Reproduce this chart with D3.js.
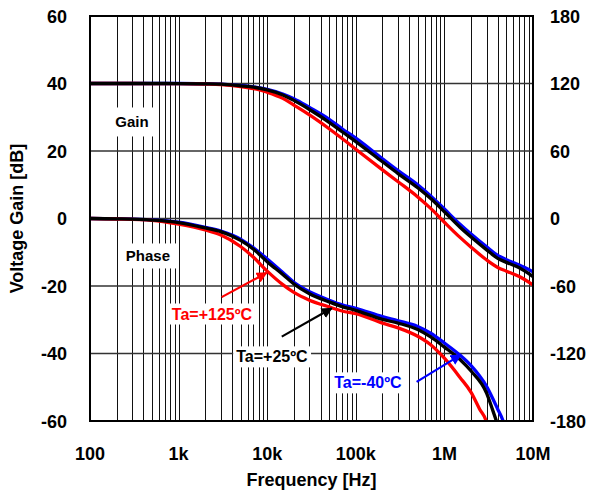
<!DOCTYPE html>
<html>
<head>
<meta charset="utf-8">
<script src="https://cdn.jsdelivr.net/npm/d3@7"></script>
<style>
  html, body { margin: 0; padding: 0; background: #fff; }
  svg { display: block; font-family: "Liberation Sans", Arial, sans-serif; font-weight: bold; }
</style>
</head>
<body>
<svg id="chart" width="593" height="492"></svg>
<script>
// ---------- data ----------
const freqGain = [100,200,500,1e3,2e3,3e3,5e3,7e3,1e4,1.5e4,2e4,3e4,5e4,7e4,1e5,2e5,3e5,5e5,7e5,1e6,1.5e6,2e6,3e6,4e6,5e6,7e6,1e7];
const gainBlue  = [40,40,40,40,39.92,39.83,39.4,39.0,38.3,36.9,35.5,32.9,29.4,26.6,23.8,17.7,14.2,10.0,6.7,2.8,-1.7,-4.6,-8.4,-10.9,-12.2,-13.8,-15.8];
const gainBlack = [40,40,40,39.98,39.9,39.8,39.3,38.9,38.1,36.6,35.0,32.3,28.5,25.7,22.8,16.8,13.3,9.1,5.9,2.0,-2.6,-5.5,-9.3,-11.8,-13.0,-14.6,-17.2];
const gainRed   = [40,40,39.99,39.96,39.85,39.7,39.1,38.5,37.4,35.6,33.6,30.7,26.6,23.7,20.5,14.4,10.9,6.4,3.0,-1.1,-5.6,-8.5,-12.3,-14.5,-15.6,-17.2,-19.7];

const freqPhaseBlue  = [100,200,500,1e3,2e3,3e3,5e3,7e3,1e4,1.5e4,2e4,3e4,5e4,7e4,1e5,2e5,3e5,5e5,7e5,1e6,1.5e6,2e6,3e6,4e6,4.6e6,4.9e6];
const phaseBlue      = [0,-0.3,-1.2,-3.3,-7.8,-11.1,-18.3,-26.1,-36.0,-48.0,-56.7,-65.1,-72.6,-76.8,-79.8,-87.3,-90.9,-96.0,-102.0,-110.7,-121.5,-130.8,-149.4,-169.5,-180,-187];
const freqPhaseBlack = [100,200,500,1e3,2e3,3e3,5e3,7e3,1e4,1.5e4,2e4,3e4,5e4,7e4,1e5,2e5,3e5,5e5,7e5,1e6,1.5e6,2e6,3e6,3.5e6,4.1e6];
const phaseBlack     = [0,-0.3,-1.4,-3.6,-8.4,-11.7,-19.5,-27.3,-38.4,-49.8,-58.2,-66.9,-74.1,-78.3,-81.6,-89.7,-93.0,-98.7,-105.3,-114.3,-125.4,-135.6,-155.4,-170.1,-186];
const freqPhaseRed   = [100,200,500,1e3,2e3,3e3,5e3,7e3,1e4,1.5e4,2e4,3e4,5e4,7e4,1e5,2e5,3e5,5e5,7e5,1e6,1.5e6,2e6,2.5e6,3e6,3.1e6];
const phaseRed       = [0,-0.45,-1.65,-5.1,-10.2,-14.7,-24.9,-34.5,-46.8,-58.8,-65.7,-72.6,-78.6,-82.2,-84.6,-93.0,-97.2,-104.7,-112.2,-124.2,-141.3,-154.5,-169.5,-181.5,-186];

const xTickValues = [100,1e3,1e4,1e5,1e6,1e7];
const xTickLabels = ["100","1k","10k","100k","1M","10M"];
const yLeftTicks  = [60,40,20,0,-20,-40,-60];
const yRightTicks = [180,120,60,0,-60,-120,-180];

const seriesNames  = ["Ta=-40ºC","Ta=+25ºC","Ta=+125ºC"];
const seriesColors = ["#0000ff","#000000","#ff0000"];

// ---------- layout ----------
const W = 593, H = 492;
const m = {left: 90, right: 60, top: 16, bottom: 71};
const svg = d3.select("#chart");

const x = d3.scaleLog().domain([100, 1e7]).range([m.left, W - m.right]);
const yL = d3.scaleLinear().domain([-60, 60]).range([H - m.bottom, m.top]);
const yR = d3.scaleLinear().domain([-180, 180]).range([H - m.bottom, m.top]);

// grid: vertical (log minor + major)
const vTicks = x.ticks();
svg.append("g").selectAll("line").data(vTicks).join("line")
  .attr("x1", d => Math.round(x(d)) + 0.5).attr("x2", d => Math.round(x(d)) + 0.5)
  .attr("y1", m.top).attr("y2", H - m.bottom)
  .attr("stroke", "#111").attr("stroke-width", 1);

// grid: horizontal
svg.append("g").selectAll("line").data(yLeftTicks).join("line")
  .attr("x1", m.left).attr("x2", W - m.right)
  .attr("y1", d => yL(d)).attr("y2", d => yL(d))
  .attr("stroke", "#333").attr("stroke-width", 1.6);

// clip
svg.append("clipPath").attr("id", "plotclip").append("rect")
  .attr("x", m.left).attr("y", m.top)
  .attr("width", W - m.left - m.right).attr("height", H - m.top - m.bottom);

// curves
const plot = svg.append("g").attr("clip-path", "url(#plotclip)");
const lineGain  = d3.line().x(d => x(d[0])).y(d => yL(d[1])).curve(d3.curveMonotoneX);
const linePhase = d3.line().x(d => x(d[0])).y(d => yR(d[1])).curve(d3.curveMonotoneX);

const gainSets  = [gainBlue, gainRed, gainBlack];
const phaseSets = [[freqPhaseBlue, phaseBlue], [freqPhaseRed, phaseRed], [freqPhaseBlack, phaseBlack]];
const colorOrder = [seriesColors[0], seriesColors[2], seriesColors[1]];

gainSets.forEach((g, i) => {
  plot.append("path").datum(freqGain.map((f, j) => [f, g[j]]))
    .attr("d", lineGain).attr("fill", "none")
    .attr("stroke", colorOrder[i]).attr("stroke-width", 3.3);
});
phaseSets.forEach((p, i) => {
  plot.append("path").datum(p[0].map((f, j) => [f, p[1][j]]))
    .attr("d", linePhase).attr("fill", "none")
    .attr("stroke", colorOrder[i]).attr("stroke-width", 3.3);
});

// frame
svg.append("rect").attr("x", m.left).attr("y", m.top)
  .attr("width", W - m.left - m.right).attr("height", H - m.top - m.bottom)
  .attr("fill", "none").attr("stroke", "#000").attr("stroke-width", 2);

// tick labels
const tickFont = 18;
svg.append("g").selectAll("text").data(yLeftTicks).join("text")
  .attr("x", 67).attr("y", d => yL(d) + 6.5)
  .attr("text-anchor", "end").attr("font-size", tickFont).text(d => d);
svg.append("g").selectAll("text").data(yRightTicks).join("text")
  .attr("x", 550).attr("y", d => yR(d) + 6.5)
  .attr("text-anchor", "start").attr("font-size", tickFont).text(d => d);
svg.append("g").selectAll("text").data(xTickValues).join("text")
  .attr("x", d => x(d)).attr("y", 460)
  .attr("text-anchor", "middle").attr("font-size", tickFont)
  .text((d, i) => xTickLabels[i]);

// axis titles
svg.append("text").attr("x", (m.left + W - m.right) / 2).attr("y", 486)
  .attr("text-anchor", "middle").attr("font-size", 18).text("Frequency [Hz]");
svg.append("text").attr("transform", `translate(23, ${(m.top + H - m.bottom) / 2}) rotate(-90)`)
  .attr("text-anchor", "middle").attr("font-size", 18).text("Voltage Gain [dB]");

// annotations
function boxedLabel(fx, dy, text, color, size, padX, padY) {
  const g = svg.append("g");
  const t = g.append("text").attr("x", x(fx)).attr("y", yL(dy))
    .attr("text-anchor", "middle").attr("dominant-baseline", "central")
    .attr("font-size", size).attr("fill", color).text(text);
  const bb = t.node().getBBox();
  g.insert("rect", "text").attr("x", bb.x - padX).attr("y", bb.y - padY)
    .attr("width", bb.width + 2 * padX).attr("height", bb.height + 2 * padY)
    .attr("fill", "#fff");
}
boxedLabel(298, 28.6, "Gain", "#000", 15, 9, 6);
boxedLabel(451, -11.1, "Phase", "#000", 15, 6, 4);

// arrows
const defs = svg.append("defs");
seriesColors.forEach((c, i) => {
  defs.append("marker").attr("id", "ah" + i)
    .attr("viewBox", "0 0 10 10").attr("refX", 9).attr("refY", 5)
    .attr("markerWidth", 5).attr("markerHeight", 5).attr("orient", "auto")
    .attr("markerUnits", "strokeWidth")
    .append("path").attr("d", "M0,0 L10,5 L0,10 z").attr("fill", c);
});
const arrows = [
  {from: [486e3, -48.4], to: [1.53e6, -40.4], ci: 0},
  {from: [14.6e3, -35.0], to: [53.5e3, -26.6], ci: 1},
  {from: [3.06e3, -23.3], to: [9.86e3, -16.1], ci: 2}
];
arrows.forEach(a => {
  svg.append("line")
    .attr("x1", x(a.from[0])).attr("y1", yL(a.from[1]))
    .attr("x2", x(a.to[0])).attr("y2", yL(a.to[1]))
    .attr("stroke", seriesColors[a.ci]).attr("stroke-width", 2.2)
    .attr("marker-end", `url(#ah${a.ci})`);
});

boxedLabel(2.38e3, -28.3, seriesNames[2], seriesColors[2], 16, 3, 2);
boxedLabel(11.3e3, -41.0, seriesNames[1], seriesColors[1], 16, 3, 2);
boxedLabel(137e3, -48.7, seriesNames[0], seriesColors[0], 16, 3, 2);
</script>
</body>
</html>
